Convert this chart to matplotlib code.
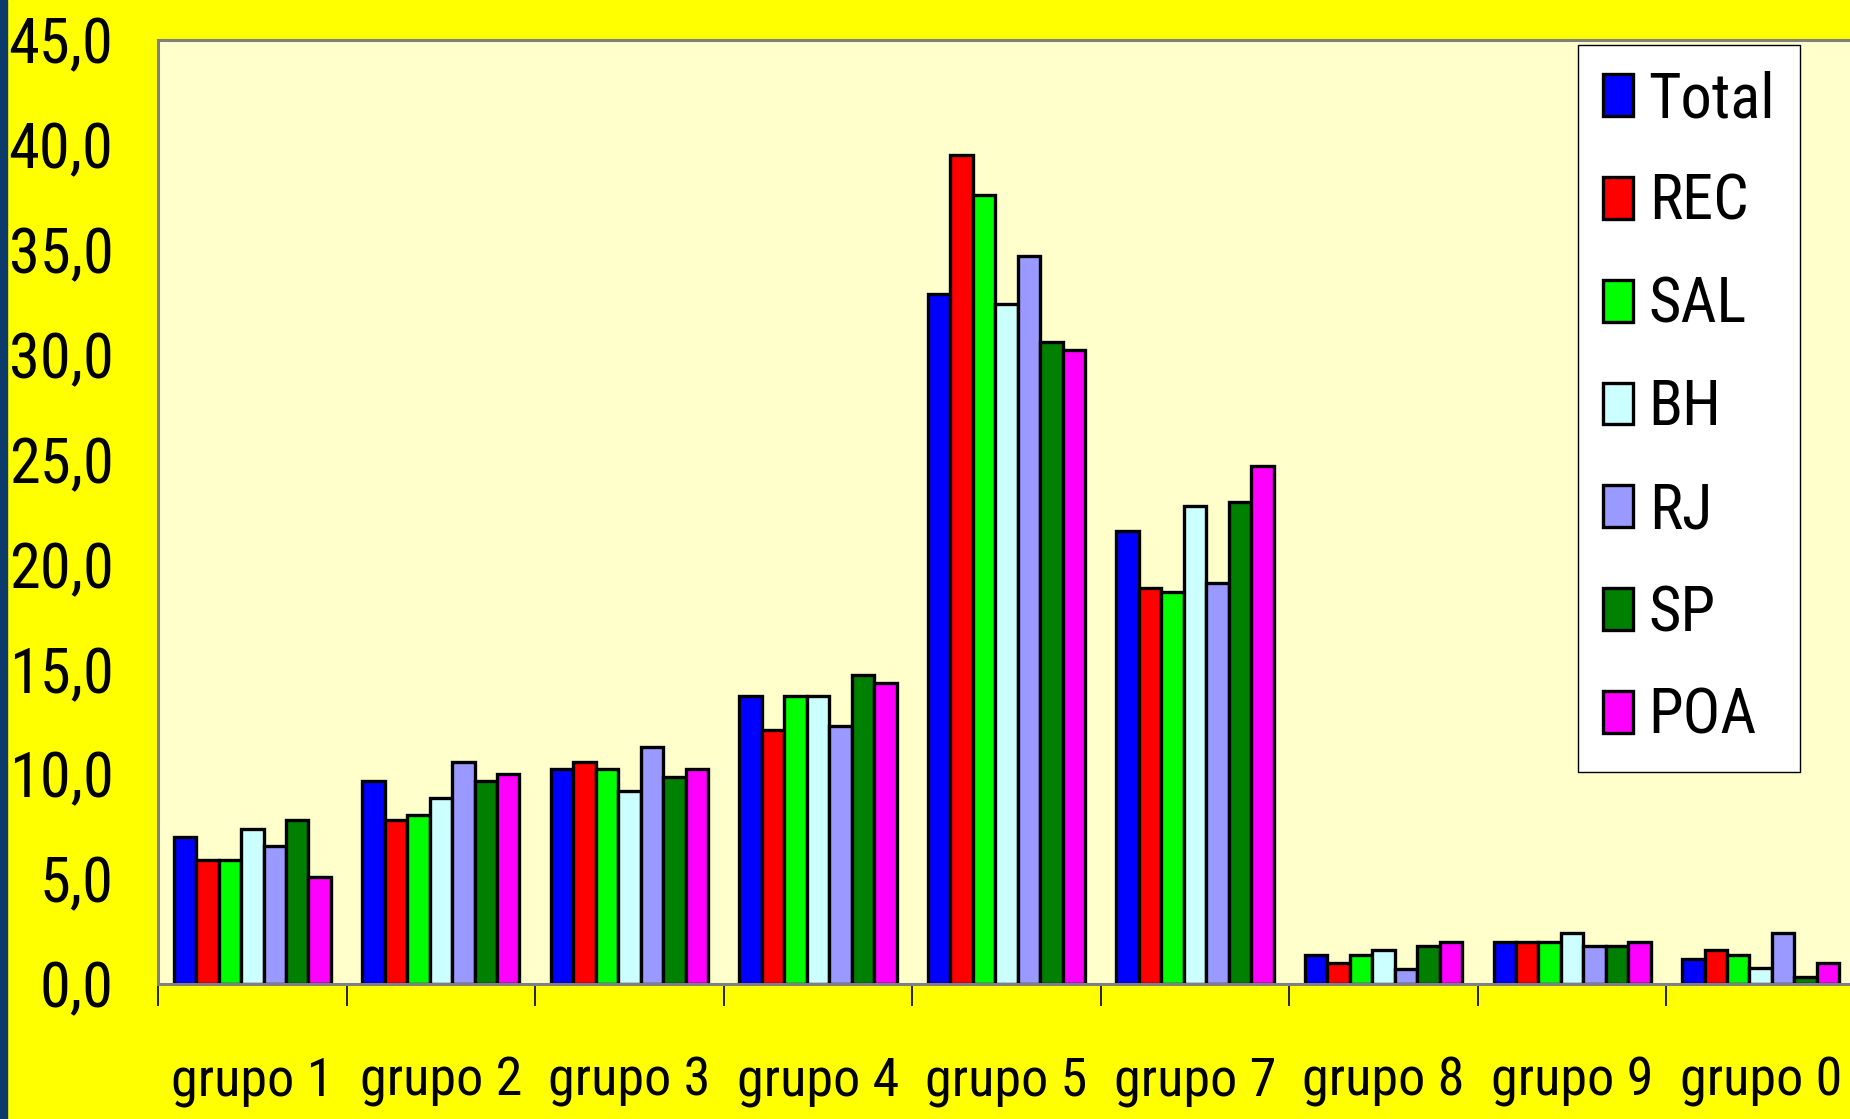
import matplotlib
matplotlib.use("Agg")
import matplotlib.pyplot as plt
import numpy as np
from matplotlib.patches import Rectangle
from matplotlib import font_manager

categories = ["grupo 1", "grupo 2", "grupo 3", "grupo 4", "grupo 5", "grupo 7", "grupo 8", "grupo 9", "grupo 0"]
series_names = ["Total", "REC", "SAL", "BH", "RJ", "SP", "POA"]
total = [7.0, 9.7, 10.25, 13.75, 32.9, 21.6, 1.4, 2.0, 1.2]
rec = [5.9, 7.8, 10.6, 12.1, 39.5, 18.9, 1.0, 2.0, 1.6]
sal = [5.9, 8.05, 10.25, 13.75, 37.6, 18.7, 1.4, 2.0, 1.4]
bh = [7.4, 8.85, 9.2, 13.75, 32.4, 22.8, 1.6, 2.45, 0.75]
rj = [6.6, 10.6, 11.3, 12.3, 34.7, 19.1, 0.7, 1.8, 2.45]
sp = [7.8, 9.7, 9.85, 14.75, 30.6, 23.0, 1.8, 1.8, 0.35]
poa = [5.1, 10.0, 10.25, 14.35, 30.2, 24.7, 2.0, 2.0, 1.0]
yticks = [0, 5, 10, 15, 20, 25, 30, 35, 40, 45]
ytick_labels = ["0,0", "5,0", "10,0", "15,0", "20,0", "25,0", "30,0", "35,0", "40,0", "45,0"]
colors = ["#0000FF", "#FF0000", "#00FF00", "#CCFFFF", "#9999FF", "#008000", "#FF00FF"]

names = {f.name for f in font_manager.fontManager.ttflist}
fam = ["Roboto Condensed", "Archivo Narrow", "PT Sans Narrow", "Liberation Sans", "DejaVu Sans"]
fam = [f for f in fam if f in names] or ["DejaVu Sans"]
plt.rcParams["font.family"] = fam

W, H = 1850, 1119
fig = plt.figure(figsize=(W / 100, H / 100), dpi=100, facecolor="#FFFF00")
ax = fig.add_axes([158 / W, 135 / H, 1697 / W, 944 / H])
ax.set_facecolor("#FFFFCC")

data = [total, rec, sal, bh, rj, sp, poa]
n = len(series_names)
bw = 1.0 / (n + 1.4)
x = np.arange(len(categories))
for i, (vals, c, name) in enumerate(zip(data, colors, series_names)):
    offs = (i - (n - 1) / 2) * bw
    ax.bar(x + offs, vals, width=bw, color=c, edgecolor="black", linewidth=2.4, label=name, zorder=3)

ax.set_xlim(-0.5, len(categories) - 0.5)
ax.set_ylim(0, 45)
ax.set_yticks(yticks)
ax.set_yticklabels(ytick_labels, fontsize=45)
ax.tick_params(axis="y", length=0, pad=32)
ax.set_xticks(x)
ax.set_xticklabels(categories, fontsize=39)
ax.tick_params(axis="x", which="major", length=0, pad=52)
ax.set_xticks(np.arange(len(categories) + 1) - 0.5, minor=True)
ax.tick_params(axis="x", which="minor", length=16, width=1.2, color="black", direction="out")

for s in ["left", "top", "right", "bottom"]:
    ax.spines[s].set_color("#808080")
    ax.spines[s].set_linewidth(2.2)
ax.spines["bottom"].set_zorder(4)

leg = ax.legend(loc="upper left", bbox_to_anchor=((1578 - 158) / 1697, (984 - 45) / 944),
                fontsize=45, frameon=True, fancybox=False, framealpha=1, edgecolor="black",
                handlelength=0.48, handleheight=0.65, handletextpad=0.25, labelspacing=0.685,
                borderpad=0.4, borderaxespad=0)
leg.get_frame().set_linewidth(1.0)
leg.get_frame().set_facecolor("white")

fig.patches.append(Rectangle((0, 0), 7 / W, 1, transform=fig.transFigure, color="#0B3A6B", zorder=10))

fig.savefig("out.png", dpi=100, facecolor=fig.get_facecolor())
